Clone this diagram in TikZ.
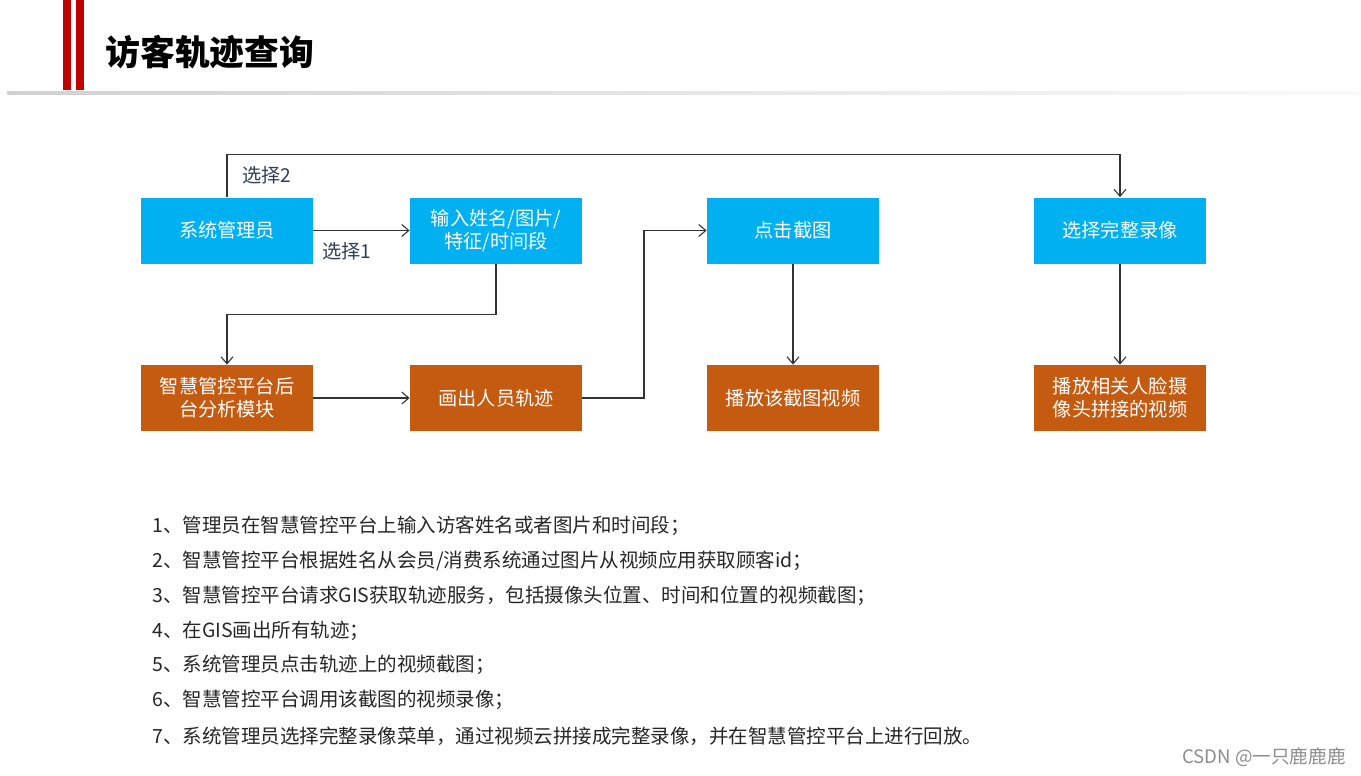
\documentclass[tikz,border=0pt]{standalone}
\usepackage{fontspec}
\setmainfont{Noto Sans CJK SC}
\usepackage{tikz}
\usetikzlibrary{arrows.meta,positioning,calc}
\usepackage{xcolor}
\definecolor{boxBlue}{RGB}{0,176,240}
\definecolor{boxOrange}{RGB}{197,90,17}
\definecolor{barRed}{RGB}{192,0,0}
\definecolor{tagNavy}{RGB}{47,64,92}
\definecolor{textGray}{RGB}{38,38,38}

\begin{document}
\begin{tikzpicture}[x=0.5pt,y=-0.5pt,
    bluebox/.style={fill=boxBlue,text=white,font=\fontsize{9.6}{11.5}\selectfont,align=center,
      minimum width=86pt,minimum height=33pt,inner sep=0pt},
    orangebox/.style={bluebox,fill=boxOrange},
    link/.style={draw=black!80,line width=0.55pt,-{Straight Barb[length=3.5pt,width=6pt]}},
    tag/.style={font=\fontsize{9.6}{11}\selectfont,text=tagNavy},
    stepline/.style={font=\fontsize{9.75}{11}\selectfont,text=textGray,anchor=west,inner sep=0pt}]
        \useasboundingbox (0,0) rectangle (1361,776);
        % Header
        \fill[barRed] (63,0) rectangle (71,90);
        \fill[barRed] (76,0) rectangle (84,90);
        \shade[left color=black!18,right color=black!2] (7,91) rectangle (1361,94);
        \node[font=\fontsize{17.4}{20}\selectfont\bfseries,anchor=west,inner sep=0pt] (title) at (105,52) {访客轨迹查询};
        % Boxes
        \node[bluebox] (admin) at (227,230.5) {系统管理员};
        \node[bluebox] (input) at (496,230.5) {输入姓名/图片/\\特征/时间段};
        \node[bluebox] (click) at (793,230.5) {点击截图};
        \node[bluebox] (full) at (1120,230.5) {选择完整录像};
        \node[orangebox] (backend) at (227,398) {智慧管控平台后\\台分析模块};
        \node[orangebox] (track) at (496,398) {画出人员轨迹};
        \node[orangebox] (play) at (793,398) {播放该截图视频};
        \node[orangebox] (stitch) at (1120,398) {播放相关人脸摄\\像头拼接的视频};
        % Arrows
        \draw[link] (admin.north) -- ++(0,-43) -| (full.north);
        \node[tag] (sel2) at (267,175) {选择2};
        \draw[link] (admin.east) -- (input.west);
        \node[tag] (sel1) at (347,251) {选择1};
        \draw[link] (input.south) -- ++(0,51) -| (backend.north);
        \draw[link] (backend.east) -- (track.west);
        \coordinate (turn) at (644,398);
        \draw[link] (track.east) -- (turn) |- (click.west);
        \draw[link] (click.south) -- (play.north);
        \draw[link] (full.south) -- (stitch.north);
        % Steps
        \node[stepline] (s1) at (152,526) {1、管理员在智慧管控平台上输入访客姓名或者图片和时间段；};
        \node[stepline] (s2) at (152,561) {2、智慧管控平台根据姓名从会员/消费系统通过图片从视频应用获取顾客id；};
        \node[stepline] (s3) at (152,596) {3、智慧管控平台请求GIS获取轨迹服务，包括摄像头位置、时间和位置的视频截图；};
        \node[stepline] (s4) at (152,631) {4、在GIS画出所有轨迹；};
        \node[stepline] (s5) at (152,665) {5、系统管理员点击轨迹上的视频截图；};
        \node[stepline] (s6) at (152,700) {6、智慧管控平台调用该截图的视频录像；};
        \node[stepline] (s7) at (152,736) {7、系统管理员选择完整录像菜单，通过视频云拼接成完整录像，并在智慧管控平台上进行回放。};
        % Watermark
        \node[font=\fontsize{9.3}{10}\selectfont,text=black!45,anchor=east,inner sep=0pt] (mark) at (1346,757) {CSDN @一只鹿鹿鹿};
      \end{tikzpicture}
\end{document}
